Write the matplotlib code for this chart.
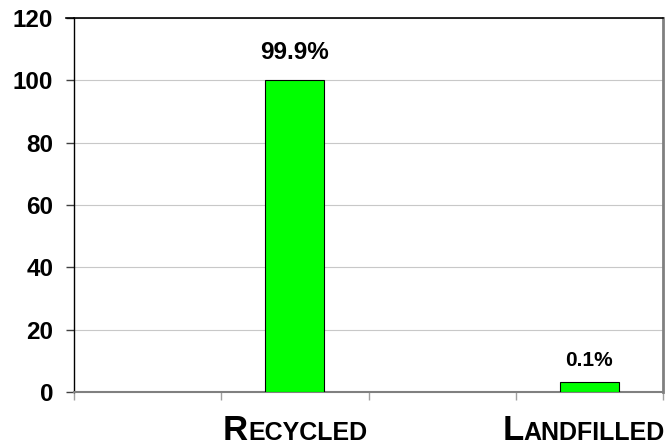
import matplotlib
matplotlib.use("Agg")
import matplotlib.pyplot as plt
from matplotlib.transforms import offset_copy

# DATA #
categories = ["Recycled", "Landfilled"]
values = [100, 3.2]
value_labels = ["99.9%", "0.1%"]
y_ticks = [0, 20, 40, 60, 80, 100, 120]

# FIGURE #
fig = plt.figure(figsize=(6.68, 4.47), dpi=100)
ax = fig.add_axes([74/668, 55/447, 589/668, 374/447])

x_pos = [2*i + 1 for i in range(len(categories))]
ax.bar(x_pos, values, width=0.4, color="#00ff00", edgecolor="black", linewidth=0.8, zorder=3)

# value labels above bars
label_sizes = [17.5, 15]
label_gaps = [12, 9]
for x, v, lab, s, g in zip(x_pos, values, value_labels, label_sizes, label_gaps):
    ax.annotate(lab, (x, v), xytext=(0, g), textcoords="offset points",
                ha="center", va="bottom", fontsize=s, fontweight="bold",
                family=["Liberation Sans", "DejaVu Sans"])

# axes settings
ax.set_xlim(-0.5, 3.5)
ax.set_ylim(0, 120)
ax.set_yticks(y_ticks)
ax.set_yticklabels([str(t) for t in y_ticks], fontsize=17.5, fontweight="bold",
                   family=["Liberation Sans", "DejaVu Sans"])
ax.set_xticks([-0.5, 0.5, 1.5, 2.5, 3.5])
ax.set_xticklabels([])
ax.tick_params(axis="y", direction="out", length=6, width=1, color="#404040", pad=9)
ax.tick_params(axis="x", direction="out", length=6, width=1, color="#a0a0a0")
ax.yaxis.grid(True, color="#c8c8c8", linewidth=0.8, zorder=0)
ax.set_axisbelow(True)

ax.spines["left"].set_color("black")
ax.spines["left"].set_linewidth(1.0)
ax.spines["top"].set_color("black")
ax.spines["top"].set_linewidth(1.2)
ax.spines["right"].set_color("#808080")
ax.spines["right"].set_linewidth(2.0)
ax.spines["bottom"].set_color("#808080")
ax.spines["bottom"].set_linewidth(1.5)

# top line reaching over the 120 tick
ax.plot([-0.5 - 0.055, -0.5], [120, 120], color="black", linewidth=1.2, clip_on=False)

# small caps category labels (kept inside the figure)
renderer = fig.canvas.get_renderer()
base = ax.get_xaxis_transform()
cat_family = ["Liberation Sans", "DejaVu Sans"]
label_y = -48/374
fig_w = fig.get_figwidth() * fig.dpi
for x, name in zip(x_pos, categories):
    word = name.upper()
    t1 = ax.text(x, label_y, word[0], fontsize=25, fontweight="bold", family=cat_family,
                 ha="left", va="baseline", transform=base)
    t2 = ax.text(x, label_y, word[1:], fontsize=18, fontweight="bold", family=cat_family,
                 ha="left", va="baseline", transform=base)
    w1 = t1.get_window_extent(renderer).width
    w2 = t2.get_window_extent(renderer).width
    total = w1 + w2
    x_disp = base.transform((x, 0))[0]
    shift = -total/2
    overflow = x_disp + total/2 - (fig_w - 3)
    if overflow > 0:
        shift -= overflow
    t1.set_transform(offset_copy(base, fig=fig, x=shift, y=0, units="dots"))
    t2.set_transform(offset_copy(base, fig=fig, x=shift + w1, y=0, units="dots"))

fig.savefig("out.png", dpi=100)
